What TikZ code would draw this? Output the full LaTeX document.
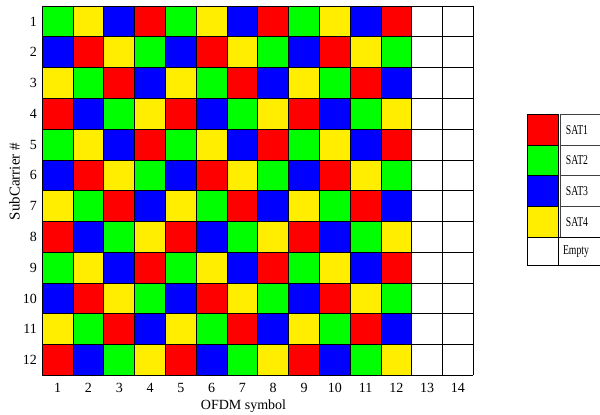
\documentclass[tikz,border=0pt]{standalone}
\usepackage{graphicx}
\usepackage{fontspec}
\setmainfont{Liberation Serif}
\definecolor{satr}{RGB}{255,0,0}
\definecolor{satg}{RGB}{0,255,0}
\definecolor{satb}{RGB}{0,0,255}
\definecolor{saty}{RGB}{255,238,0}
\begin{document}
\begin{tikzpicture}[x=1pt,y=-1pt,
  gridline/.style={line width=0.9pt, draw=black},
  axlabel/.style={font=\fontsize{14}{16}\selectfont, inner sep=0pt},
  legtext/.style={font=\fontsize{13.5}{15}\selectfont, inner sep=0pt}]
\useasboundingbox (0,0) rectangle (600,415);
\clip (0,0) rectangle (600,415);
\fill[white] (0,0) rectangle (600,415);
\def\cw{30.79}
\def\gx{42.3}
\def\gy{6}
% coloured cells
\foreach \row/\cols in {1/{g,y,b,r},2/{b,r,y,g},3/{y,g,r,b},4/{r,b,g,y}}{
  \foreach \rep in {0,1,2}{
    \foreach \c [count=\k] in \cols {
      \foreach \crep in {0,1,2}{
        \pgfmathsetmacro{\xx}{\gx+\cw*(\k-1+4*\crep)}
        \pgfmathsetmacro{\yy}{\gy+\cw*(\row-1+4*\rep)}
        \fill[sat\c] (\xx,\yy) rectangle ++(\cw,\cw);
      }
    }
  }
}
% grid lines
\foreach \i in {0,...,14}
  \draw[gridline] (\gx+\i*\cw,\gy) -- ++(0,12*\cw);
\foreach \j in {0,...,12}
  \draw[gridline] (\gx,\gy+\j*\cw) -- ++(14*\cw,0);
% axis labels
\foreach \j in {1,...,12}
  \node[axlabel, anchor=east] (r\j) at (37,\gy+\j*\cw-\cw/2) {\j};
\foreach \i in {1,...,14}
  \node[axlabel] (c\i) at (\gx+\i*\cw-\cw/2,388) {\i};
\node[axlabel] (xlab) at (243.5,406) {OFDM symbol};
\node[axlabel, font=\fontsize{15}{17}\selectfont, rotate=90] (ylab) at (14.5,181.5) {SubCarrier \#};
% legend
\foreach \c/\t [count=\k] in {r/SAT1,g/SAT2,b/SAT3,y/SAT4}{
  \pgfmathsetmacro{\yy}{114.3+30.7*(\k-1)}
  \draw[gridline, fill=sat\c] (527.3,\yy) rectangle ++(31,30.7);
  \draw[line width=0.9pt, draw=black!75] (560.5,\yy) rectangle ++(50,30.7);
  \node[legtext] (l\k) at (577,\yy+15.35) {\scalebox{0.72}[1]{\t}};
}
\draw[gridline] (527.3,237.1) rectangle (610,265.7);
\draw[gridline] (558.3,237.1) -- (558.3,265.7);
\node[legtext] (l5) at (576,251.4) {\scalebox{0.72}[1]{Empty}};
\end{tikzpicture}
\end{document}
